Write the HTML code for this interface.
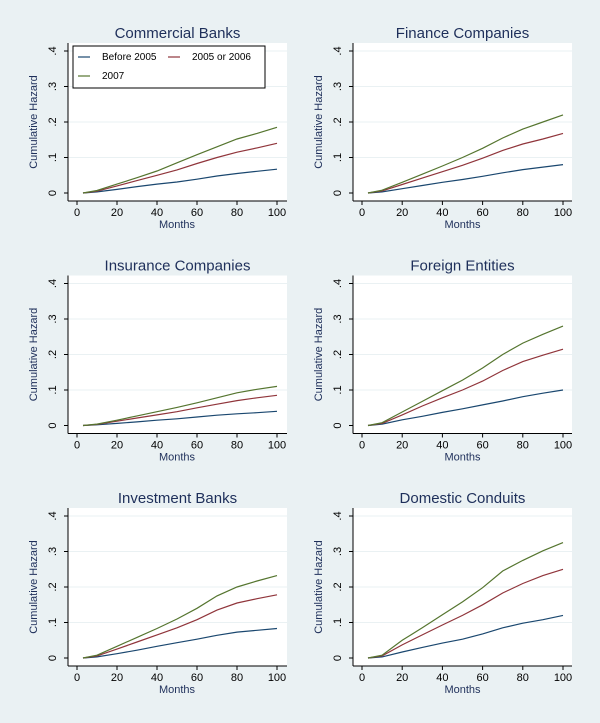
<!DOCTYPE html>
<html><head><meta charset="utf-8"><style>
html,body{margin:0;padding:0;background:#eaf1f3;}
svg{display:block;font-family:"Liberation Sans",Arial,sans-serif;}
</style></head><body>
<svg id="fig" width="600" height="723" viewBox="0 0 600 723">
<rect x="0" y="0" width="600" height="723" fill="#eaf1f3"/>
</svg>
<script>
const months = [3, 10, 20, 30, 40, 50, 60, 70, 80, 90, 100];
const panelTitles = ["Commercial Banks","Finance Companies","Insurance Companies","Foreign Entities","Investment Banks","Domestic Conduits"];
const seriesNames = ["Before 2005","2005 or 2006","2007"];
const seriesColors = ["#1a476f","#90353b","#55752f"];
const xTicks = [0,20,40,60,80,100];
const yTicks = [0,0.1,0.2,0.3,0.4];
const yTickLabels = ["0",".1",".2",".3",".4"];
const cbBlue  = [0,.003,.010,.018,.025,.031,.039,.048,.055,.061,.067];
const cbRed   = [0,.005,.020,.035,.050,.065,.083,.100,.115,.127,.140];
const cbGreen = [0,.007,.025,.043,.062,.085,.108,.130,.152,.168,.185];
const fcBlue  = [0,.003,.012,.021,.030,.038,.047,.057,.066,.073,.080];
const fcRed   = [0,.006,.024,.042,.060,.078,.098,.120,.138,.152,.168];
const fcGreen = [0,.008,.030,.053,.076,.100,.126,.155,.180,.200,.220];
const icBlue  = [0,.002,.006,.010,.015,.019,.024,.029,.033,.036,.040];
const icRed   = [0,.003,.012,.021,.030,.039,.050,.060,.070,.078,.085];
const icGreen = [0,.004,.015,.027,.039,.051,.064,.078,.092,.102,.110];
const feBlue  = [0,.004,.016,.026,.037,.047,.058,.069,.081,.091,.100];
const feRed   = [0,.006,.030,.055,.078,.100,.125,.155,.180,.198,.215];
const feGreen = [0,.008,.038,.068,.098,.128,.162,.200,.232,.257,.280];
const ibBlue  = [0,.003,.012,.022,.033,.043,.053,.064,.073,.078,.083];
const ibRed   = [0,.006,.025,.045,.065,.085,.108,.135,.155,.167,.178];
const ibGreen = [0,.008,.033,.058,.083,.110,.140,.175,.200,.217,.232];
const dcBlue  = [0,.003,.017,.030,.042,.053,.068,.085,.098,.108,.120];
const dcRed   = [0,.006,.037,.065,.093,.120,.150,.183,.210,.232,.250];
const dcGreen = [0,.008,.050,.085,.122,.158,.198,.245,.275,.302,.325];
const panelData = [[cbBlue,cbRed,cbGreen],[fcBlue,fcRed,fcGreen],[icBlue,icRed,icGreen],[feBlue,feRed,feGreen],[ibBlue,ibRed,ibGreen],[dcBlue,dcRed,dcGreen]];

const NS="http://www.w3.org/2000/svg";
const svg=document.getElementById('fig');
function mk(tag,attrs,parent){const e=document.createElementNS(NS,tag);for(const k in attrs)e.setAttribute(k,attrs[k]);(parent||svg).appendChild(e);return e;}

panelTitles.forEach((title,i)=>{
  const col=i%2,row=Math.floor(i/2);
  const x0=col?362:77, x1=col?563:277;
  const yb=193+row*232.5, yt=yb-142;
  const left=col?353:68, right=col?572:287, top=yt-8, bottom=yb+8;
  const sx=v=>x0+(v/100)*(x1-x0);
  const sy=v=>yb-(v/0.4)*(yb-yt);
  const g=mk('g',{});
  
  
  const bg=mk('rect',{x:left,y:top,width:right-left,height:bottom-top,fill:'#fff'},g);
  
  
  yTicks.forEach((t,k)=>{
    if(k>0){const gl=mk('line',{x1:left,x2:right,y1:sy(t),y2:sy(t),stroke:'#eaf1f3','stroke-width':1},g);
      
      }
    mk('line',{x1:left-4,x2:left,y1:sy(t),y2:sy(t),stroke:'#000','stroke-width':1},g);
    const tx=left-12;
    const tl=mk('text',{x:tx,y:sy(t),'font-size':11,'text-anchor':'middle',transform:`rotate(-90 ${tx} ${sy(t)})`,fill:'#000'},g);
    tl.textContent=yTickLabels[k];
    
    
  });
  xTicks.forEach(t=>{
    mk('line',{x1:sx(t),x2:sx(t),y1:bottom,y2:bottom+4,stroke:'#000','stroke-width':1},g);
    const tl=mk('text',{x:sx(t),y:bottom+15,'font-size':11,'text-anchor':'middle',fill:'#000'},g);
    tl.textContent=t;
    
    
  });
  mk('line',{x1:left,x2:left,y1:top,y2:bottom,stroke:'#000','stroke-width':1},g);
  mk('line',{x1:left,x2:right,y1:bottom,y2:bottom,stroke:'#000','stroke-width':1},g);
  const tt=mk('text',{x:(left+right)/2,y:top-5,'font-size':15,'text-anchor':'middle',fill:'#1e2f5a'},g);
  tt.textContent=title;
  
  
  const xa=mk('text',{x:(x0+x1)/2,y:bottom+27,'font-size':11,'text-anchor':'middle',fill:'#1e2f5a'},g);
  xa.textContent='Months';
  
  
  const yax=left-31, yay=(top+bottom)/2;
  const ya=mk('text',{x:yax,y:yay,'font-size':11,'text-anchor':'middle',transform:`rotate(-90 ${yax} ${yay})`,fill:'#1e2f5a'},g);
  ya.textContent='Cumulative Hazard';
  
  
  panelData[i].forEach((vals,s)=>{
    let d='';
    vals.forEach((v,k)=>{d+=(k?'L':'M')+sx(months[k]).toFixed(1)+','+sy(v).toFixed(1);});
    const p=mk('path',{d:d,fill:'none',stroke:seriesColors[s],'stroke-width':1.2},g);
    
    
  });
  if(i===0){
    const lg=mk('g',{},g);
    
    
    mk('rect',{x:73,y:46,width:192,height:42,fill:'#fff',stroke:'#000','stroke-width':1},lg);
    const pos=[[78,60],[168,60],[78,79]];
    seriesNames.forEach((n,s)=>{
      mk('line',{x1:pos[s][0],x2:pos[s][0]+12,y1:pos[s][1]-3,y2:pos[s][1]-3,stroke:seriesColors[s],'stroke-width':1.2},lg);
      const t=mk('text',{x:pos[s][0]+24,y:pos[s][1],'font-size':10,fill:'#000'},lg);
      t.textContent=n;
      
      
    });
  }
});
</script>
</body></html>
